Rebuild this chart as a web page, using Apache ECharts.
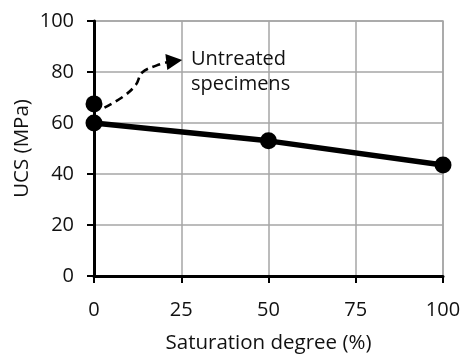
<!DOCTYPE html>
<html>
<head>
<meta charset="utf-8">
<script src="https://cdn.jsdelivr.net/npm/echarts@6/dist/echarts.min.js"></script>
<style>
  html, body { margin: 0; padding: 0; background: #fff; }
  #chart { width: 461px; height: 355px; }
</style>
</head>
<body>
<div id="chart"></div>
<script>
// Saturation degree (%) vs. UCS (MPa)
const saturation = [0, 50, 100];
const ucs = [60, 53, 43.5];

// Untreated specimens (dry)
const untreatedSaturation = [0];
const untreatedUcs = [67.5];

// Dashed pointer from the untreated point to its label
const pointerPath = [[3, 66], [8.5, 70.5], [12, 75], [13.8, 79.8], [18, 82.6], [21, 83.8]];
const pointerHead = [[23, 84.3]];

const xTicks = [0, 25, 50, 75, 100];
const yTicks = [0, 20, 40, 60, 80, 100];

const FONT = 'Open Sans';
const TEXT = '#111';

const chart = echarts.init(document.getElementById('chart'), null, { renderer: 'canvas' });

chart.setOption({
  animation: false,
  backgroundColor: '#fff',
  grid: { left: 94, right: 18, top: 21, bottom: 79, containLabel: false,
          outerBoundsMode: 'none',
          show: true, borderColor: '#a6a6a6', borderWidth: 1.5 },
  xAxis: {
    type: 'value',
    min: xTicks[0], max: xTicks[xTicks.length - 1], interval: 25,
    name: 'Saturation degree (%)',
    nameLocation: 'middle', nameGap: 57, nameMoveOverlap: false,
    nameTextStyle: { fontFamily: FONT, fontSize: 20.5, color: TEXT },
    axisLine: { show: true, onZero: false, lineStyle: { color: '#000', width: 3 } },
    axisTick: { show: true, inside: false, length: 7, lineStyle: { color: '#000', width: 2 } },
    axisLabel: { margin: 24, fontFamily: FONT, fontSize: 20, color: TEXT,
                 formatter: v => String(v) },
    splitLine: { show: true, lineStyle: { color: '#a6a6a6', width: 1.5 } }
  },
  yAxis: {
    type: 'value',
    min: yTicks[0], max: yTicks[yTicks.length - 1], interval: 20,
    name: 'UCS (MPa)',
    nameLocation: 'middle', nameGap: 61, nameRotate: 90, nameMoveOverlap: false,
    nameTextStyle: { fontFamily: FONT, fontSize: 20.5, color: TEXT },
    axisLine: { show: true, onZero: false, lineStyle: { color: '#000', width: 3 } },
    axisTick: { show: true, inside: false, length: 7, lineStyle: { color: '#000', width: 2 } },
    axisLabel: { margin: 20, fontFamily: FONT, fontSize: 20, color: TEXT },
    splitLine: { show: true, lineStyle: { color: '#a6a6a6', width: 1.5 } }
  },
  series: [
    {
      type: 'line',
      data: pointerPath,
      smooth: 0.4,
      symbol: 'none',
      lineStyle: { color: '#000', width: 2.6, type: [8, 5] },
      z: 3
    },
    {
      type: 'scatter',
      data: pointerHead,
      symbol: 'triangle',
      symbolSize: [16, 16],
      symbolRotate: -83,
      itemStyle: { color: '#000', opacity: 1 },
      z: 4
    },
    {
      type: 'line',
      data: saturation.map((s, i) => [s, ucs[i]]),
      symbol: 'circle',
      symbolSize: 17,
      lineStyle: { color: '#000', width: 5.5 },
      itemStyle: { color: '#000', opacity: 1 },
      clip: false,
      z: 5
    },
    {
      type: 'scatter',
      data: untreatedSaturation.map((s, i) => [s, untreatedUcs[i]]),
      symbol: 'circle',
      symbolSize: 17,
      itemStyle: { color: '#000', opacity: 1 },
      clip: false,
      z: 5
    }
  ],
  graphic: [
    {
      type: 'text',
      left: 191,
      top: 47,
      style: {
        text: 'Untreated\nspecimens',
        fontFamily: FONT, fontSize: 20, lineHeight: 25,
        fill: TEXT
      },
      z: 10
    }
  ]
});
</script>
</body>
</html>
